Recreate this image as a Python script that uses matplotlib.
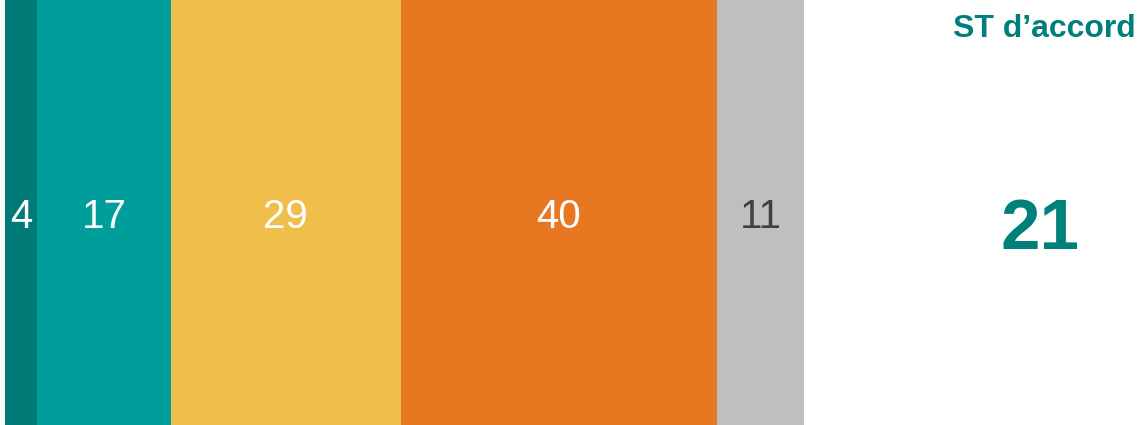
import matplotlib.pyplot as plt
import numpy as np

plt.rcParams['font.family'] = ['Liberation Sans', 'DejaVu Sans']

values = [4, 17, 29, 40, 11]
colors = ['#007A77', '#009E9B', '#F0BE4B', '#E87722', '#BFBFBF']
label_colors = ['white', 'white', 'white', 'white', '#404040']
summary_title = 'ST d\u2019accord'
summary_value = 21

fig = plt.figure(figsize=(11.41, 4.25), dpi=100)
ax = fig.add_axes([5 / 1141, 0, 799 / 1141, 1])

left = 0
for v, c, lc in zip(values, colors, label_colors):
    ax.barh(0, v, left=left, height=1, color=c, edgecolor='none')
    ax.text(left + v / 2, -0.01, str(v), ha='center', va='center',
            fontsize=29, color=lc)
    left += v

ax.set_xlim(0, sum(values))
ax.set_ylim(-0.5, 0.5)
ax.axis('off')

fig.text(1044 / 1141, 1 - 29 / 425, summary_title, ha='center', va='center',
         fontsize=23, fontweight='bold', color='#00807A')
fig.text(1040 / 1141, 1 - 231 / 425, str(summary_value), ha='center', va='center',
         fontsize=51, fontweight='bold', color='#00807A')

fig.savefig('out.png', dpi=100)
